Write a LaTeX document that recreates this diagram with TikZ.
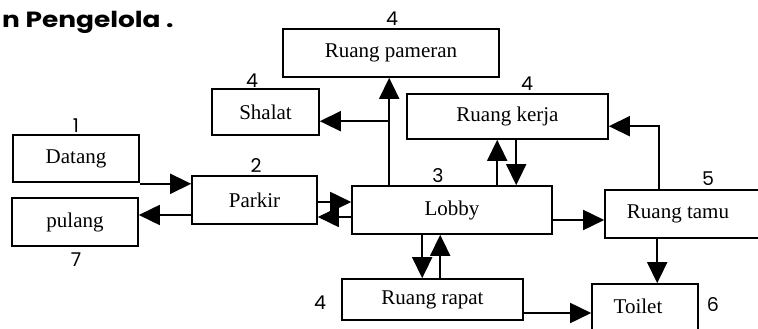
\documentclass[tikz,border=0pt]{standalone}
\usepackage{fontspec}
\setmainfont{Liberation Serif}
\newfontfamily\titlefont[FakeStretch=1.2]{Poppins}
\newfontfamily\numfont{Poppins}
\usetikzlibrary{arrows.meta,calc}
\begin{document}
\begin{tikzpicture}[x=1pt,y=-1pt,
  box/.style={draw,line width=1.6pt,rectangle,inner sep=0pt,font=\fontsize{21}{23}\selectfont},
  txt/.style={inner sep=0pt,font=\fontsize{21}{23}\selectfont},
  num/.style={inner sep=0pt,font=\numfont\fontsize{19}{20}\selectfont},
  conn/.style={line width=1.7pt,-{Triangle[length=21pt,width=20pt]}}]
\useasboundingbox (0,0) rectangle (758,329);
\clip (0,0) rectangle (758,329);
% title
\node[anchor=base west,inner sep=0pt,font=\titlefont\bfseries\fontsize{22}{24}\selectfont] (title) at (2,28) {n Pengelola .};
% boxes
\node[box,minimum width=216,minimum height=48] (pameran) at (391,53) {Ruang pameran};
\node[box,minimum width=107,minimum height=46] (shalat) at (265.5,112) {Shalat};
\node[box,minimum width=126,minimum height=47] (datang) at (76,158.5) {Datang};
\node[box,minimum width=125,minimum height=48] (parkir) at (254.5,200) {Parkir};
\node[box,minimum width=126,minimum height=48] (pulang) at (75,222) {pulang};
\node[box,minimum width=200,minimum height=48] (lobby) at (452,210) {Lobby};
\node[box,minimum width=201,minimum height=45] (kerja) at (507.5,116.5) {Ruang kerja};
\node[box,minimum width=170,minimum height=48] (tamu) at (690,214) {};
\node[txt] (tamutxt) at (678,214) {Ruang tamu};
\node[box,minimum width=181,minimum height=41] (rapat) at (432.5,299.5) {Ruang rapat};
\node[box,minimum width=106,minimum height=62] (toilet) at (645,315) {};
\node[txt] (toilettxt) at (638,306) {Toilet};
% numbers
\node[num] (n1) at (392,19) {4};
\node[num] (n2) at (252,81) {4};
\node[num] (n3) at (76,126) {1};
\node[num] (n4) at (256,166) {2};
\node[num] (n5) at (76,260) {7};
\node[num] (n6) at (438,176) {3};
\node[num] (n7) at (527,84) {4};
\node[num] (n8) at (708,179) {5};
\node[num] (n9) at (320,303) {4};
\node[num] (n10) at (713,305) {6};
% connectors
\coordinate (dA) at ($(datang.south east)+(0,1)$);
\draw[conn] (dA) -- (parkir.west |- dA);
\coordinate (pA) at ($(parkir.west)+(0,15)$);
\draw[conn] (pA) -- (pulang.east |- pA);
\coordinate (pB) at ($(parkir.east)+(0,2)$);
\draw[conn] (pB) -- (lobby.west |- pB);
\coordinate (lA) at ($(lobby.west)+(0,7)$);
\draw[conn] (lA) -- (parkir.east |- lA);
\coordinate (lB) at ($(lobby.north west)+(38,0)$);
\draw[conn] (lB) -- (pameran.south -| lB);
\coordinate (br) at ($(lB)+(0,-64)$);
\draw[conn] (br) -- (shalat.east |- br);
\coordinate (lC) at ($(lobby.north west)+(146,0)$);
\draw[conn] (lC) -- (kerja.south -| lC);
\coordinate (kA) at ($(kerja.south west)+(110,0)$);
\draw[conn] (kA) -- (lobby.north -| kA);
\coordinate (tA) at ($(tamu.north west)+(55,0)$);
\coordinate (tB) at ($(tA)+(0,-63)$);
\draw[conn] (tA) -- (tB) -- (kerja.east |- tB);
\coordinate (lD) at ($(lobby.east)+(0,10)$);
\draw[conn] (lD) -- (tamu.west |- lD);
\coordinate (lE) at ($(lobby.south west)+(71,0)$);
\draw[conn] (lE) -- (rapat.north -| lE);
\coordinate (rA) at ($(rapat.north west)+(99,0)$);
\draw[conn] (rA) -- (lobby.south -| rA);
\coordinate (tC) at ($(tamu.south west)+(53,0)$);
\draw[conn] (tC) -- (toilet.north -| tC);
\coordinate (rB) at ($(rapat.east)+(0,13.5)$);
\draw[conn] (rB) -- (toilet.west |- rB);
\end{tikzpicture}
\end{document}
